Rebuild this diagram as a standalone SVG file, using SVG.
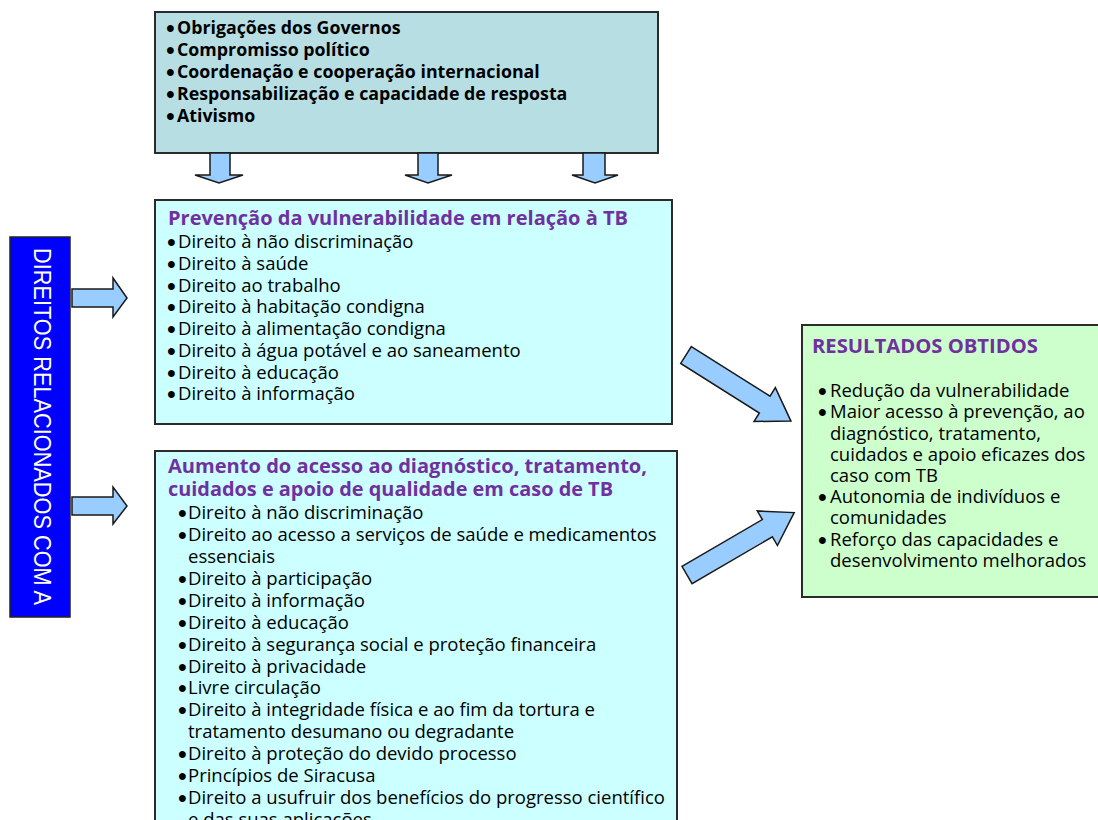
<svg xmlns="http://www.w3.org/2000/svg" width="1098" height="820" viewBox="0 0 1098 820">
<style>
.box{stroke:#2b2b2b;stroke-width:2}
.t{font-family:"Open Sans",Lato,"Liberation Sans",sans-serif;font-size:18.5px;fill:#000}
.b{font-weight:bold;font-size:17.8px}
.d{font-family:"Liberation Sans",Arial,sans-serif;font-size:25px;font-weight:normal}
.h{font-family:"Open Sans",Lato,"Liberation Sans",sans-serif;font-size:20px;font-weight:bold;fill:#7030a0}
.arr{fill:#99ccff;stroke:#1a1a1a;stroke-width:1.5;stroke-linejoin:miter}
</style>
<rect width="1098" height="820" fill="#ffffff"/>
<g id="governos">
<rect class="box" x="155" y="12" width="503" height="141" fill="#b7dfe3"/>
<text class="t b"><tspan class="d" x="166" y="37">•</tspan><tspan x="177" y="34">Obrigações dos Governos</tspan></text>
<text class="t b"><tspan class="d" x="166" y="59">•</tspan><tspan x="177" y="56">Compromisso político</tspan></text>
<text class="t b"><tspan class="d" x="166" y="81">•</tspan><tspan x="177" y="78">Coordenação e cooperação internacional</tspan></text>
<text class="t b"><tspan class="d" x="166" y="103">•</tspan><tspan x="177" y="100">Responsabilização e capacidade de resposta</tspan></text>
<text class="t b"><tspan class="d" x="166" y="125">•</tspan><tspan x="177" y="122">Ativismo</tspan></text>
</g>
<g id="direitos">
<rect x="10" y="237" width="60" height="380" fill="#0000ff" stroke="#222" stroke-width="1.5"/>
<text transform="translate(34,248) rotate(90)" font-family="'Liberation Sans Narrow','Liberation Sans',sans-serif" font-size="24" fill="#ffffff" textLength="357" lengthAdjust="spacingAndGlyphs">DIREITOS RELACIONADOS COM A</text>
</g>
<g id="prevencao">
<rect class="box" x="155" y="200" width="517" height="224" fill="#ccffff"/>
<text class="h" x="168" y="225" textLength="460" lengthAdjust="spacingAndGlyphs">Prevenção da vulnerabilidade em relação à TB</text>
<text class="t"><tspan class="d" x="167" y="251">•</tspan><tspan x="178" y="248">Direito à não discriminação</tspan></text>
<text class="t"><tspan class="d" x="167" y="273">•</tspan><tspan x="178" y="270">Direito à saúde</tspan></text>
<text class="t"><tspan class="d" x="167" y="294.5">•</tspan><tspan x="178" y="291.5">Direito ao trabalho</tspan></text>
<text class="t"><tspan class="d" x="167" y="316">•</tspan><tspan x="178" y="313">Direito à habitação condigna</tspan></text>
<text class="t"><tspan class="d" x="167" y="338">•</tspan><tspan x="178" y="335">Direito à alimentação condigna</tspan></text>
<text class="t"><tspan class="d" x="167" y="360">•</tspan><tspan x="178" y="357">Direito à água potável e ao saneamento</tspan></text>
<text class="t"><tspan class="d" x="167" y="381.5">•</tspan><tspan x="178" y="378.5">Direito à educação</tspan></text>
<text class="t"><tspan class="d" x="167" y="403">•</tspan><tspan x="178" y="400">Direito à informação</tspan></text>
</g>
<g id="acesso">
<rect class="box" x="155" y="451" width="522" height="380" fill="#ccffff"/>
<text class="h" x="168" y="473" textLength="479" lengthAdjust="spacingAndGlyphs">Aumento do acesso ao diagnóstico, tratamento,</text>
<text class="h" x="168" y="496" textLength="445" lengthAdjust="spacingAndGlyphs">cuidados e apoio de qualidade em caso de TB</text>
<text class="t"><tspan class="d" x="178" y="522">•</tspan><tspan x="188" y="519">Direito à não discriminação</tspan></text>
<text class="t"><tspan class="d" x="178" y="544">•</tspan><tspan x="188" y="541">Direito ao acesso a serviços de saúde e medicamentos</tspan></text>
<text class="t" x="188" y="563">essenciais</text>
<text class="t"><tspan class="d" x="178" y="588">•</tspan><tspan x="188" y="585">Direito à participação</tspan></text>
<text class="t"><tspan class="d" x="178" y="610">•</tspan><tspan x="188" y="607">Direito à informação</tspan></text>
<text class="t"><tspan class="d" x="178" y="631.5">•</tspan><tspan x="188" y="628.5">Direito à educação</tspan></text>
<text class="t"><tspan class="d" x="178" y="653.5">•</tspan><tspan x="188" y="650.5">Direito à segurança social e proteção financeira</tspan></text>
<text class="t"><tspan class="d" x="178" y="675.5">•</tspan><tspan x="188" y="672.5">Direito à privacidade</tspan></text>
<text class="t"><tspan class="d" x="178" y="697">•</tspan><tspan x="188" y="694">Livre circulação</tspan></text>
<text class="t"><tspan class="d" x="178" y="719">•</tspan><tspan x="188" y="716">Direito à integridade física e ao fim da tortura e</tspan></text>
<text class="t" x="188" y="738">tratamento desumano ou degradante</text>
<text class="t"><tspan class="d" x="178" y="763">•</tspan><tspan x="188" y="760">Direito à proteção do devido processo</tspan></text>
<text class="t"><tspan class="d" x="178" y="785">•</tspan><tspan x="188" y="782">Princípios de Siracusa</tspan></text>
<text class="t"><tspan class="d" x="178" y="807">•</tspan><tspan x="188" y="804">Direito a usufruir dos benefícios do progresso científico</tspan></text>
<text class="t" x="188" y="826">e das suas aplicações</text>
</g>
<g id="resultados">
<rect class="box" x="802" y="325" width="297" height="272" fill="#ccffcc"/>
<text class="h" x="812" y="353" textLength="226" lengthAdjust="spacingAndGlyphs">RESULTADOS OBTIDOS</text>
<text class="t"><tspan class="d" x="818" y="400">•</tspan><tspan x="830" y="397">Redução da vulnerabilidade</tspan></text>
<text class="t"><tspan class="d" x="818" y="421">•</tspan><tspan x="830" y="418">Maior acesso à prevenção, ao</tspan></text>
<text class="t" x="830" y="439.5">diagnóstico, tratamento,</text>
<text class="t" x="830" y="460.5">cuidados e apoio eficazes dos</text>
<text class="t" x="830" y="482">caso com TB</text>
<text class="t"><tspan class="d" x="818" y="506">•</tspan><tspan x="830" y="503">Autonomia de indivíduos e</tspan></text>
<text class="t" x="830" y="524">comunidades</text>
<text class="t"><tspan class="d" x="818" y="548.5">•</tspan><tspan x="830" y="545.5">Reforço das capacidades e</tspan></text>
<text class="t" x="830" y="566.5">desenvolvimento melhorados</text>
</g>
<g id="connectors">
<polygon class="arr" points="210,153 230,153 230,175 243,175 219,183 195,175 210,175"/>
<polygon class="arr" points="418,153 438,153 438,175 452,175 428,183 405,175 418,175"/>
<polygon class="arr" points="583,153 605,153 605,175 618,175 595,183 572,175 583,175"/>
<polygon class="arr" points="72,289 113,289 113,278 127,298 113,317 113,307 72,307"/>
<polygon class="arr" points="72,497 113,497 113,487 127,506 113,524 113,515 72,515"/>
<polygon class="arr" transform="translate(686,355) rotate(32.2)" points="0,-10 93,-10 93,-20 124,0 93,20 93,10 0,10"/>
<polygon class="arr" transform="translate(687,575) rotate(-30.2)" points="0,-10 93,-10 93,-20 124,0 93,20 93,10 0,10"/>
</g>
</svg>
